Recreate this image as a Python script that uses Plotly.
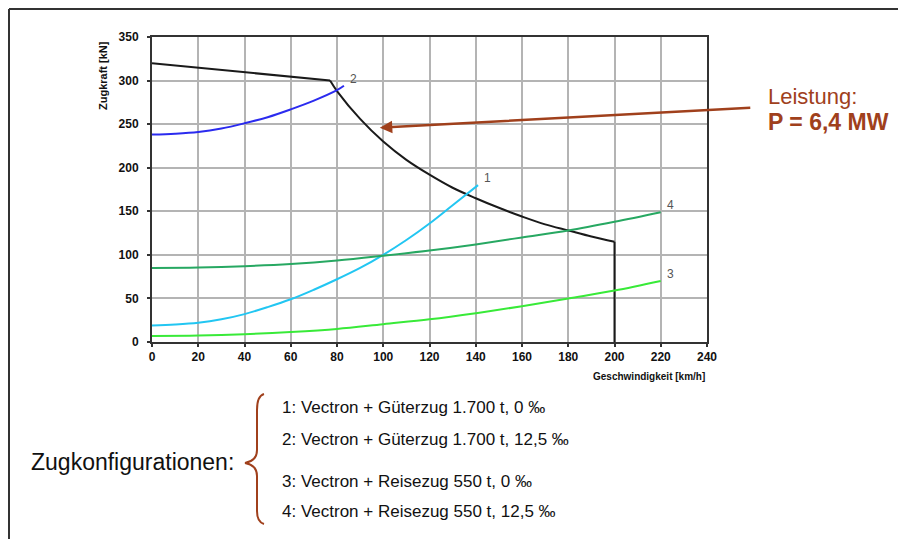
import plotly.graph_objects as go

# ---- data ----
power_v = [0, 20, 40, 60, 77, 80, 90, 100, 110, 120, 130, 140, 150, 160, 170, 180, 190, 200, 200]
power_f = [320, 315, 310, 305, 300, 288, 256, 230, 209, 192, 177, 165, 154, 144, 135, 128, 121, 115, 0]

c1_v = [0, 10, 20, 30, 40, 50, 60, 70, 80, 90, 100, 110, 120, 130, 141]
c1_f = [19, 20, 22, 26, 32, 40, 49, 60, 72, 85, 100, 117, 136, 157, 180]

c2_v = [0, 10, 20, 30, 40, 50, 60, 70, 80, 83]
c2_f = [238, 239, 241, 245, 251, 258, 267, 277, 289, 294]

c3_v = [0, 20, 40, 60, 80, 100, 120, 140, 160, 180, 200, 220]
c3_f = [7, 7.5, 9, 11.5, 15, 20.5, 26, 33, 41, 50, 59, 70]

c4_v = [0, 20, 40, 60, 80, 100, 120, 140, 160, 180, 200, 220]
c4_f = [85, 85.5, 87, 89.5, 93.5, 99, 105, 112, 120, 128, 138, 149]

curve_labels = ["1", "2", "3", "4"]
config_texts = [
    "1: Vectron + Güterzug 1.700 t, 0 ‰",
    "2: Vectron + Güterzug 1.700 t, 12,5 ‰",
    "3: Vectron + Reisezug 550 t, 0 ‰",
    "4: Vectron + Reisezug 550 t, 12,5 ‰",
]
x_ticks = list(range(0, 241, 20))
y_ticks = list(range(0, 351, 50))

# ---- layout geometry (screen pixels; page has an 8px body margin) ----
OFF = 8
W, H = 906 - OFF, 539 - OFF
L, R, T, B = 152, 707, 37, 342
BROWN = "#a0401c"


def px(x):
    return (x - L) / (R - L)


def py(y):
    return (B - y) / (B - T)


fig = go.Figure()

# power curve: constant-slope part, hyperbolic part, vertical drop at v max
k = power_v.index(77)
n = len(power_v) - 1
black_parts = [
    (power_v[:k + 1], power_f[:k + 1], "linear"),
    (power_v[k:n], power_f[k:n], "spline"),
    (power_v[n - 1:], power_f[n - 1:], "linear"),
]
for xs, ys, shape in black_parts:
    fig.add_trace(go.Scatter(x=xs, y=ys, mode="lines",
                             line=dict(color="#1a1a1a", width=2, shape=shape),
                             showlegend=False, hoverinfo="skip"))

series = [
    (c2_v, c2_f, "#2b2bef"),
    (c1_v, c1_f, "#22c6f2"),
    (c4_v, c4_f, "#27a862"),
    (c3_v, c3_f, "#38ea38"),
]
for xs, ys, col in series:
    fig.add_trace(go.Scatter(x=xs, y=ys, mode="lines",
                             line=dict(color=col, width=2, shape="spline"),
                             showlegend=False, hoverinfo="skip"))

font_main = "Liberation Sans, Arial, sans-serif"

annotations = []
ends = [(c1_v[-1], c1_f[-1]), (c2_v[-1], c2_f[-1]), (c3_v[-1], c3_f[-1]), (c4_v[-1], c4_f[-1])]
for lab, (xv, yv) in zip(curve_labels, ends):
    annotations.append(dict(x=xv, y=yv, xref="x", yref="y", text=lab, showarrow=False,
                            xanchor="left", yanchor="bottom", xshift=4, yshift=-2,
                            font=dict(family=font_main, size=12, color="#555555")))

# power arrow
annotations.append(dict(x=98.5, y=246, xref="x", yref="y", ax=372, ay=-20,
                        axref="pixel", ayref="pixel", text="", showarrow=True,
                        arrowhead=2, arrowsize=1, arrowwidth=2.5, arrowcolor=BROWN,
                        standoff=0))
annotations.append(dict(x=px(766), y=py(96), xref="paper", yref="paper",
                        text="Leistung:", showarrow=False, xanchor="left", yanchor="middle",
                        font=dict(family=font_main, size=22, color=BROWN)))
annotations.append(dict(x=px(766), y=py(122), xref="paper", yref="paper",
                        text="<b>P = 6,4 MW</b>", showarrow=False, xanchor="left", yanchor="middle",
                        font=dict(family=font_main, size=23, color=BROWN)))

# axis titles
annotations.append(dict(x=px(103), y=py(76), xref="paper", yref="paper",
                        text="<b>Zugkraft [kN]</b>", textangle=-90, showarrow=False,
                        xanchor="center", yanchor="middle",
                        font=dict(family=font_main, size=11, color="#111111")))
annotations.append(dict(x=px(707), y=py(377), xref="paper", yref="paper",
                        text="<b>Geschwindigkeit [km/h]</b>", showarrow=False,
                        xanchor="right", yanchor="middle",
                        font=dict(family=font_main, size=10, color="#111111")))

# bottom configuration text
annotations.append(dict(x=px(29), y=py(462), xref="paper", yref="paper",
                        text="Zugkonfigurationen:", showarrow=False,
                        xanchor="left", yanchor="middle",
                        font=dict(family=font_main, size=23, color="#111111")))
for txt, yy in zip(config_texts, [407, 439, 481, 511]):
    annotations.append(dict(x=px(280), y=py(yy), xref="paper", yref="paper",
                            text=txt, showarrow=False, xanchor="left", yanchor="middle",
                            font=dict(family=font_main, size=17, color="#111111")))

# brace path (pixel -> paper)
pts = [
    ("M", [(264, 394)]),
    ("Q", [(257, 396), (257, 410)]),
    ("L", [(257, 450)]),
    ("Q", [(257, 461), (245, 463)]),
    ("Q", [(257, 465), (257, 476)]),
    ("L", [(257, 511)]),
    ("Q", [(257, 522), (264, 524)]),
]
path = " ".join(cmd + " " + " ".join(f"{px(a):.5f},{py(b):.5f}" for a, b in p) for cmd, p in pts)

shapes = [
    dict(type="path", path=path, xref="paper", yref="paper",
         line=dict(color=BROWN, width=2)),
    dict(type="line", xref="paper", yref="paper", x0=px(9), x1=px(906), y0=py(9), y1=py(9),
         line=dict(color="#333333", width=2)),
    dict(type="line", xref="paper", yref="paper", x0=px(9), x1=px(9), y0=py(9), y1=py(539),
         line=dict(color="#333333", width=2)),
]

axis_common = dict(showgrid=True, gridcolor="#b4b4b4", gridwidth=1.5,
                   showline=True, linecolor="#333333", linewidth=2, mirror=True,
                   ticks="outside", ticklen=3, tickcolor="#333333", tickwidth=1.5,
                   zeroline=False,
                   tickfont=dict(family=font_main, size=12, color="#111111", weight="bold"))

fig.update_layout(
    width=W, height=H,
    margin=dict(l=L - OFF, r=906 - R, t=T - OFF, b=539 - B),
    paper_bgcolor="white", plot_bgcolor="white",
    xaxis=dict(range=[0, 240], tickvals=x_ticks, ticktext=[str(v) for v in x_ticks], **axis_common),
    yaxis=dict(range=[0, 350], tickvals=y_ticks, ticktext=[str(v) for v in y_ticks],
               ticklabelstandoff=6, **axis_common),
    annotations=annotations,
    shapes=shapes,
)

fig.write_html("out.html")
